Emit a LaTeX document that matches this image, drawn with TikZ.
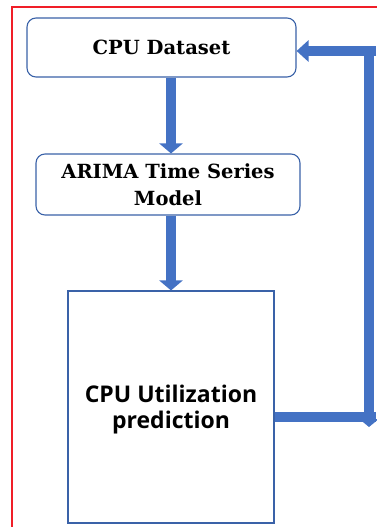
\documentclass[tikz,border=0pt]{standalone}
\usepackage{fontspec}
\newfontfamily\boxserif{DejaVu Serif}
\newfontfamily\boxsans{Open Sans}
\usetikzlibrary{arrows.meta,calc}
\definecolor{flowblue}{HTML}{4472C4}
\definecolor{edgeblue}{HTML}{3A62A8}
\definecolor{frame}{HTML}{F01E28}
\tikzset{
  x=1pt, y=-1pt,
  stepbox/.style={draw=edgeblue, line width=1.1pt, fill=white, rounded corners=9pt,
    align=center, inner sep=0pt, font=\boxserif\bfseries\fontsize{19.5}{27}\selectfont},
  resultbox/.style={draw=edgeblue, line width=1.1pt, fill=white,
    align=center, inner sep=0pt, font=\boxsans\bfseries\fontsize{23}{26}\selectfont},
  flow/.style={draw=flowblue, line width=9.5pt,
    -{Triangle[width=23pt,length=10pt]}},
  flowline/.style={draw=flowblue, line width=9.5pt}
}
\begin{document}
\begin{tikzpicture}
\useasboundingbox (0,0) rectangle (376,527);
% outer frame
\draw[frame, line width=1.6pt] (12,540) -- (12,7) -- (390,7);

% process boxes
\node[stepbox, minimum width=269pt, minimum height=59pt] (data) at (161.5,47.5)
  {CPU Dataset};
\node[stepbox, minimum width=264pt, minimum height=61pt] (arima) at (168,184.5)
  {ARIMA Time Series\\Model};
\node[resultbox, minimum width=206pt, minimum height=232pt] (pred) at (171,407) {};
\node[font=\boxsans\bfseries\fontsize{23}{26}\selectfont, align=center, inner sep=0pt]
  (predtext) at ([yshift=-3pt]pred.center) {CPU Utilization\\prediction};

% forward flow
\draw[flow] (data.south -| pred.north) -- (arima.north -| pred.north);
\draw[flow] (arima.south -| pred.north) -- (pred.north);

% feedback loop
\coordinate (outR) at (376,417);
\coordinate (vtop) at (369,47);
\coordinate (vbot) at (369,427);
\coordinate (inR) at (376,51);
\draw[flowline] (pred.east |- outR) -- (outR);
\draw[flowline, -{Triangle[width=19pt,length=8pt]}] (vtop) -- (vbot);
\draw[flowline, -{Triangle[width=21pt,length=12pt]}] (inR) -- (data.east |- inR);
\end{tikzpicture}
\end{document}
